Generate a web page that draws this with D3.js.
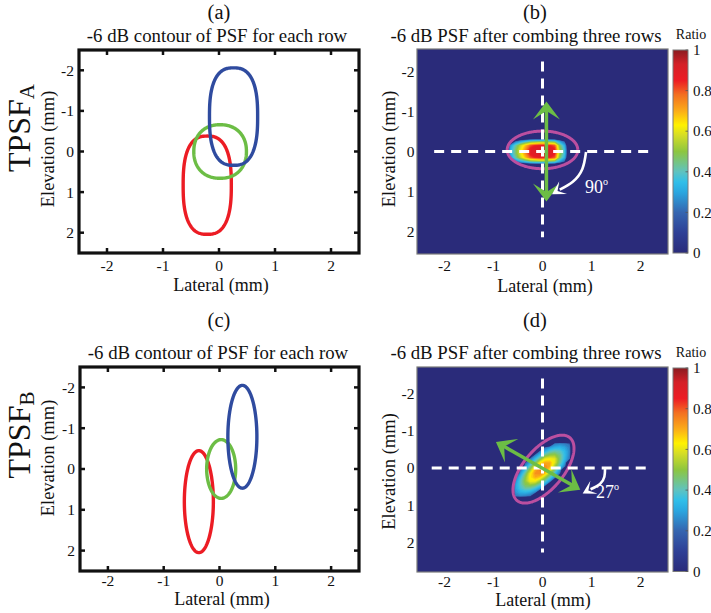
<!DOCTYPE html>
<html><head><meta charset="utf-8">
<script src="https://cdn.jsdelivr.net/npm/d3@7"></script>
<style>
body{margin:0;background:#fff}
svg{display:block}
text,tspan{font-family:"Liberation Serif","Times New Roman",serif;fill:#111}
</style></head>
<body><svg id="c" width="711" height="613" font-family="Liberation Serif, serif"></svg>
<script>
// ---------------- DATA ----------------
const xTicks = [-2, -1, 0, 1, 2];
const yTicks = [-2, -1, 0, 1, 2];
const cbTicks = [0, 0.2, 0.4, 0.6, 0.8, 1];
const cbTickLabels = ["0", "0.2", "0.4", "0.6", "0.8", "1"];
const panelLetters = ["(a)", "(b)", "(c)", "(d)"];
const titleContour = "-6 dB contour of PSF for each row";
const titlePSF = "-6 dB PSF after combing three rows";
const rowLabels = ["A", "B"];
const angleLabels = ["90", "27"];
const rowColors = ["#ec1c24", "#6cbd45", "#2f4b9f"];   // row 1, 2, 3

// -6 dB contours (ellipse params, mm): centre x, centre y, semi-axis x, semi-axis y, squareness
const contA_cx = [-0.21, 0.02, 0.26];
const contA_cy = [0.83, 0.0, -0.86];
const contA_rx = [0.43, 0.47, 0.43];
const contA_ry = [1.21, 0.66, 1.20];
const contA_n  = [2.6, 2.2, 2.6];
const contC_cx = [-0.37, 0.03, 0.41];
const contC_cy = [0.80, 0.0, -0.79];
const contC_rx = [0.26, 0.26, 0.26];
const contC_ry = [1.25, 0.72, 1.26];
const contC_n  = [2, 2, 2];

// combined PSF (b): columns x = -0.65..0.45 step 0.1, rows y = -0.25..0.25 step 0.1
const psfB_x0 = -0.65, psfB_y0 = -0.25, psfB_step = 0.1;
const psfB = [
  [0.00,0.22,0.30,0.36,0.42,0.45,0.46,0.46,0.45,0.42,0.30,0.20],
  [0.28,0.42,0.56,0.68,0.80,0.86,0.88,0.88,0.86,0.80,0.48,0.32],
  [0.32,0.46,0.60,0.73,0.87,0.90,0.91,0.91,0.90,0.86,0.52,0.36],
  [0.32,0.46,0.60,0.73,0.87,0.90,0.91,0.91,0.90,0.86,0.52,0.36],
  [0.28,0.42,0.56,0.68,0.80,0.86,0.88,0.88,0.86,0.80,0.48,0.32],
  [0.00,0.22,0.30,0.36,0.42,0.45,0.46,0.46,0.45,0.42,0.30,0.20]
];
// combined PSF (d): columns x = -0.55..0.55 step 0.1, rows y = -0.65..0.75 step 0.1
const psfD_x0 = -0.55, psfD_y0 = -0.65, psfD_step = 0.1;
const psfD = [
  [0,0,0,0,0,0,0,0,0.23,0.25,0.24,0.21],
  [0,0,0,0,0,0,0.21,0.28,0.32,0.33,0.30,0.24],
  [0,0,0,0,0,0.23,0.32,0.39,0.42,0.40,0.34,0.25],
  [0,0,0,0,0.23,0.34,0.44,0.50,0.51,0.45,0.35,0.24],
  [0,0,0,0.22,0.34,0.46,0.60,0.62,0.60,0.46,0.34,0.22],
  [0,0,0.19,0.31,0.45,0.62,0.70,0.70,0.60,0.44,0.30,0],
  [0,0,0.27,0.42,0.60,0.72,0.75,0.70,0.53,0.38,0.24,0],
  [0,0.22,0.36,0.52,0.70,0.76,0.74,0.63,0.46,0.30,0,0],
  [0,0.29,0.44,0.62,0.73,0.74,0.68,0.51,0.36,0.22,0,0],
  [0.22,0.35,0.49,0.64,0.70,0.67,0.53,0.40,0.26,0,0,0],
  [0.26,0.39,0.51,0.62,0.62,0.52,0.41,0.29,0,0,0,0],
  [0.29,0.39,0.48,0.51,0.48,0.40,0.29,0,0,0,0,0],
  [0.29,0.37,0.42,0.41,0.36,0.28,0,0,0,0,0,0],
  [0.27,0.32,0.33,0.31,0.25,0,0,0,0,0,0,0],
  [0.23,0.25,0.24,0.21,0,0,0,0,0,0,0,0]
];
// -6 dB outline of combined PSF: cx, cy, rx, ry, rotation(deg)
const outlineB = [0.0, -0.04, 0.72, 0.47, 0];
const outlineD = [0.02, 0.03, 1.01, 0.445, -61.3];
// green axis arrows: [x1,y1,x2,y2] (mm)
const arrowB = [0.08, -1.25, 0.08, 1.25];
const arrowD = [-0.95, -0.70, 0.77, 0.58];
// white dashed axes: horizontal [x1,x2], vertical [y1,y2]
const dashB_h = [-2.21, 2.19], dashB_v = [-2.25, 2.14];
const dashD_h = [-2.26, 2.15], dashD_v = [-2.40, 2.27];
// white curved rotation arrows (mm)
const rotB = [[0.888,0.012],[0.813,0.435],[0.618,0.755],[0.351,0.953]];
const rotD = [[1.276,0.008],[1.262,0.233],[1.173,0.429],[0.98,0.57]];
const angleLabelPosB = [0.867, 1.04];
const angleLabelPosD = [1.09, 0.81];

// ---------------- STYLE / COLORMAP ----------------
const cStops = [0,0.1,0.2,0.3,0.35,0.4,0.5,0.58,0.63,0.7,0.78,0.85,0.93,1];
const cHex = ["#2a2b7a","#2e4096","#3565b0","#2aa7e0","#31bfe9","#5fc3c0","#8dc63f","#d5dd26","#fff200","#fbac18","#f36f21","#ed1c24","#d42027","#8a1c20"];
const cmap = d3.scaleLinear().domain(cStops).range(cHex).interpolate(d3.interpolateRgb).clamp(true);
const GREEN = "#6cbd45", MAGENTA = "#bb4fa0";
const SERIF = "Liberation Serif, Times New Roman, serif";

const svg = d3.select("#c");
const defs = svg.append("defs");

const P = {
  a: {x0:79, x1:359, y0:50, y1:253, xd:[-2.5,2.5], yd:[-2.5,2.5]},
  c: {x0:80, x1:359, y0:367, y1:571, xd:[-2.5,2.5], yd:[-2.5,2.5]},
  b: {x0:417, x1:668, y0:49, y1:254, xd:[-2.56,2.56], yd:[-2.56,2.56]},
  d: {x0:417, x1:668, y0:367, y1:572, xd:[-2.56,2.56], yd:[-2.71,2.79]}
};
Object.values(P).forEach(p => {
  p.xs = d3.scaleLinear().domain(p.xd).range([p.x0, p.x1]);
  p.ys = d3.scaleLinear().domain(p.yd).range([p.y0, p.y1]);
});

function txt(g) { return g.append("text").attr("font-family", SERIF); }

function ellipsePts(cx, cy, rx, ry, rot, n) {
  const r = rot * Math.PI / 180, pts = [];
  for (let i = 0; i <= 240; i++) {
    const t = i / 240 * 2 * Math.PI, c = Math.cos(t), s = Math.sin(t);
    const ex = rx * Math.sign(c) * Math.pow(Math.abs(c), 2 / n);
    const ey = ry * Math.sign(s) * Math.pow(Math.abs(s), 2 / n);
    pts.push([cx + ex * Math.cos(r) - ey * Math.sin(r), cy + ex * Math.sin(r) + ey * Math.cos(r)]);
  }
  return pts;
}

function tickLabels(g, p, xoff, ygap) {
  g.selectAll(null).data(xTicks).join("text").attr("font-family", SERIF)
    .attr("x", d => p.xs(d)).attr("y", p.y1 + xoff)
    .attr("text-anchor", "middle").attr("font-size", 15.5).text(d => d);
  g.selectAll(null).data(yTicks).join("text").attr("font-family", SERIF)
    .attr("x", p.x0 - ygap).attr("y", d => p.ys(d)).attr("dy", "0.35em")
    .attr("text-anchor", "end").attr("font-size", 15.5).text(d => d);
}

function labels(g, letter, lx, lyBase, title, tx, tyBase, latX, latY, elX, elY) {
  txt(g).attr("x", lx).attr("y", lyBase).attr("text-anchor", "middle")
    .attr("font-size", 20.5).text(letter);
  txt(g).attr("x", tx).attr("y", tyBase).attr("text-anchor", "middle")
    .attr("font-size", 18.8).text(title);
  txt(g).attr("x", latX).attr("y", latY).attr("text-anchor", "middle")
    .attr("font-size", 18).text("Lateral (mm)");
  txt(g).attr("transform", `translate(${elX},${elY}) rotate(-90)`)
    .attr("dy", "0.3em").attr("text-anchor", "middle")
    .attr("font-size", 18.5).text("Elevation (mm)");
}

function contourPanel(p, cx, cy, rx, ry, nn) {
  const g = svg.append("g");
  const line = d3.line().x(d => p.xs(d[0])).y(d => p.ys(d[1]));
  const cid = "clip" + p.x0 + p.y0;
  defs.append("clipPath").attr("id", cid).append("rect")
    .attr("x", p.x0).attr("y", p.y0).attr("width", p.x1 - p.x0).attr("height", p.y1 - p.y0);
  const gg = g.append("g").attr("clip-path", `url(#${cid})`);
  cx.forEach((_, i) => {
    gg.append("path").attr("d", line(ellipsePts(cx[i], cy[i], rx[i], ry[i], 0, nn[i])))
      .attr("fill", "none").attr("stroke", rowColors[i]).attr("stroke-width", 3.4);
  });
  const tl = 5;
  xTicks.forEach(t => {
    g.append("line").attr("x1", p.xs(t)).attr("x2", p.xs(t)).attr("y1", p.y1).attr("y2", p.y1 - tl)
      .attr("stroke", "#111").attr("stroke-width", 2.5);
    g.append("line").attr("x1", p.xs(t)).attr("x2", p.xs(t)).attr("y1", p.y0).attr("y2", p.y0 + tl)
      .attr("stroke", "#111").attr("stroke-width", 2.5);
  });
  yTicks.forEach(t => {
    g.append("line").attr("y1", p.ys(t)).attr("y2", p.ys(t)).attr("x1", p.x0).attr("x2", p.x0 + tl)
      .attr("stroke", "#111").attr("stroke-width", 2.5);
    g.append("line").attr("y1", p.ys(t)).attr("y2", p.ys(t)).attr("x1", p.x1).attr("x2", p.x1 - tl)
      .attr("stroke", "#111").attr("stroke-width", 2.5);
  });
  g.append("rect").attr("x", p.x0).attr("y", p.y0).attr("width", p.x1 - p.x0).attr("height", p.y1 - p.y0)
    .attr("fill", "none").attr("stroke", "#111").attr("stroke-width", 3.2);
  return g;
}

function arrowHead(g, tip, ang, len, hw, notch, color) {
  const pts = [[0,0],[-len,hw],[-notch,0],[-len,-hw]];
  g.append("path")
    .attr("d", "M" + pts.map(q => q.join(",")).join("L") + "Z")
    .attr("transform", `translate(${tip[0]},${tip[1]}) rotate(${ang * 180 / Math.PI})`)
    .attr("fill", color);
}

function heatPanel(p, mat, xc0, yc0, step, outline, arrow, dh, dv, rot, angLab, angPos) {
  const g = svg.append("g");
  const cid = "clip" + p.x0 + "_" + p.y0;
  defs.append("clipPath").attr("id", cid).append("rect")
    .attr("x", p.x0).attr("y", p.y0).attr("width", p.x1 - p.x0).attr("height", p.y1 - p.y0);
  const gg = g.append("g").attr("clip-path", `url(#${cid})`);
  gg.append("rect").attr("x", p.x0).attr("y", p.y0).attr("width", p.x1 - p.x0).attr("height", p.y1 - p.y0)
    .attr("fill", cmap(0));
  const pad = 2, rows = mat.length, cols = mat[0].length;
  const Wd = cols + 2 * pad, Hd = rows + 2 * pad;
  const vals = new Array(Wd * Hd).fill(0);
  mat.forEach((row, j) => row.forEach((v, i) => { vals[(j + pad) * Wd + i + pad] = v; }));
  const thr = d3.range(0.2, 1.0, 0.025);
  const gx0 = xc0 - (pad + 0.5) * step, gy0 = yc0 - (pad + 0.5) * step;
  const proj = d3.geoTransform({point: function(x, y) { this.stream.point(p.xs(gx0 + x * step), p.ys(gy0 + y * step)); }});
  const path = d3.geoPath(proj);
  gg.selectAll(null).data(d3.contours().size([Wd, Hd]).thresholds(thr)(vals)).join("path")
    .attr("d", path).attr("fill", d => cmap(d.value + 0.0125));
  const line = d3.line().x(d => p.xs(d[0])).y(d => p.ys(d[1]));
  gg.append("path").attr("d", line(ellipsePts(outline[0], outline[1], outline[2], outline[3], outline[4], 2)))
    .attr("fill", "none").attr("stroke", MAGENTA).attr("stroke-width", 3);
  gg.append("line").attr("x1", p.xs(dh[0])).attr("x2", p.xs(dh[1])).attr("y1", p.ys(0)).attr("y2", p.ys(0))
    .attr("stroke", "#fff").attr("stroke-width", 3).attr("stroke-dasharray", "10,7");
  gg.append("line").attr("y1", p.ys(dv[0])).attr("y2", p.ys(dv[1])).attr("x1", p.xs(0)).attr("x2", p.xs(0))
    .attr("stroke", "#fff").attr("stroke-width", 3).attr("stroke-dasharray", "10,7");
  const a1 = [p.xs(arrow[0]), p.ys(arrow[1])], a2 = [p.xs(arrow[2]), p.ys(arrow[3])];
  const ang = Math.atan2(a2[1] - a1[1], a2[0] - a1[0]);
  const sh = 9;
  gg.append("line")
    .attr("x1", a1[0] + Math.cos(ang) * sh).attr("y1", a1[1] + Math.sin(ang) * sh)
    .attr("x2", a2[0] - Math.cos(ang) * sh).attr("y2", a2[1] - Math.sin(ang) * sh)
    .attr("stroke", GREEN).attr("stroke-width", 3.5);
  arrowHead(gg, a2, ang, 18, 13.5, 9.5, GREEN);
  arrowHead(gg, a1, ang + Math.PI, 18, 13.5, 9.5, GREEN);
  const rp = rot.map(d => [p.xs(d[0]), p.ys(d[1])]);
  gg.append("path").attr("d", d3.line().curve(d3.curveNatural)(rp))
    .attr("fill", "none").attr("stroke", "#fff").attr("stroke-width", 2.6);
  const e1 = rp[rp.length - 2], e2 = rp[rp.length - 1];
  const ra = Math.atan2(e2[1] - e1[1], e2[0] - e1[0]);
  arrowHead(gg, [e2[0] + Math.cos(ra) * 9, e2[1] + Math.sin(ra) * 9], ra, 13, 7.5, 6.5, "#fff");
  const t = txt(gg).attr("x", p.xs(angPos[0])).attr("y", p.ys(angPos[1]))
    .attr("font-size", 18).style("fill", "#fff").text(angLab);
  t.append("tspan").attr("font-size", 10).attr("dy", -8).style("fill", "#fff").text("o");
  g.append("rect").attr("x", p.x0).attr("y", p.y0).attr("width", p.x1 - p.x0).attr("height", p.y1 - p.y0)
    .attr("fill", "none").attr("stroke", "#7a7a7a").attr("stroke-width", 1.2);
  return g;
}

const grad = defs.append("linearGradient").attr("id", "jet").attr("x1", 0).attr("y1", 1).attr("x2", 0).attr("y2", 0);
cStops.forEach((s, i) => grad.append("stop").attr("offset", s).attr("stop-color", cHex[i]));

function colorbar(x0, y0, y1, ratioBase) {
  const g = svg.append("g");
  const cs = d3.scaleLinear().domain([0, 1]).range([y1, y0]);
  g.append("rect").attr("x", x0).attr("y", y0).attr("width", 15).attr("height", y1 - y0)
    .attr("fill", "url(#jet)").attr("stroke", "#7a7a7a").attr("stroke-width", 1);
  cbTicks.forEach((t, i) => {
    g.append("line").attr("x1", x0 + 15).attr("x2", x0 + 12.5).attr("y1", cs(t)).attr("y2", cs(t))
      .attr("stroke", "#555").attr("stroke-width", 0.8);
    txt(g).attr("x", x0 + 20).attr("y", cs(t)).attr("dy", "0.35em")
      .attr("font-size", 15).text(cbTickLabels[i]);
  });
  txt(g).attr("x", 691).attr("y", ratioBase).attr("text-anchor", "middle")
    .attr("font-size", 14).text("Ratio");
}

// ---------------- DRAW ----------------
const ga = contourPanel(P.a, contA_cx, contA_cy, contA_rx, contA_ry, contA_n);
tickLabels(ga, P.a, 17.5, 5);
labels(ga, panelLetters[0], 219, 18.5, titleContour, 217, 42, 221, 291, 48, 149);

const gc = contourPanel(P.c, contC_cx, contC_cy, contC_rx, contC_ry, contC_n);
tickLabels(gc, P.c, 14.5, 5);
labels(gc, panelLetters[2], 219, 327, titleContour, 218, 359, 222, 605, 48, 458);

const gb = heatPanel(P.b, psfB, psfB_x0, psfB_y0, psfB_step, outlineB, arrowB, dashB_h, dashB_v, rotB, angleLabels[0], angleLabelPosB);
tickLabels(gb, P.b, 16.5, 2.5);
labels(gb, panelLetters[1], 535, 18.5, titlePSF, 526, 42, 545, 291.5, 389, 149);
colorbar(673, 50, 253, 38.5);

const gd = heatPanel(P.d, psfD, psfD_x0, psfD_y0, psfD_step, outlineD, arrowD, dashD_h, dashD_v, rotD, angleLabels[1], angleLabelPosD);
tickLabels(gd, P.d, 14.5, 2.5);
labels(gd, panelLetters[3], 535, 327, titlePSF, 526, 359, 543, 605.5, 389.5, 471.5);
colorbar(673, 368, 571.5, 356.5);

[[128, rowLabels[0]], [435, rowLabels[1]]].forEach(([cy, lab]) => {
  const t = txt(svg).attr("transform", `translate(29.5,${cy}) rotate(-90)`)
    .attr("text-anchor", "middle").attr("font-size", 32).text("TPSF");
  t.append("tspan").attr("font-size", 21).attr("dy", 4).text(lab);
});
</script></body></html>
